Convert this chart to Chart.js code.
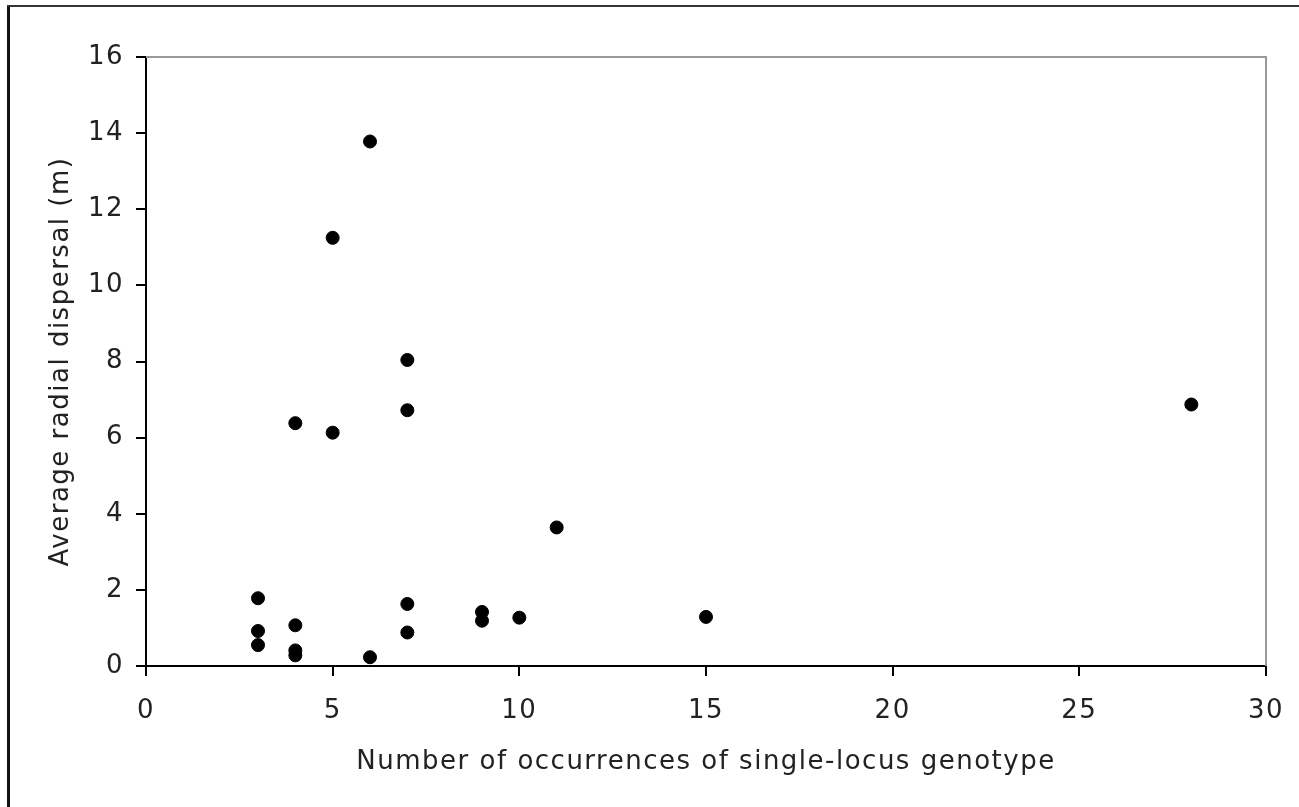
<!DOCTYPE html>
<html>
<head>
<meta charset="utf-8">
<script src="https://cdn.jsdelivr.net/npm/chart.js@4"></script>
<style>
    html, body { margin: 0; padding: 0; background: #fff; }
    #wrap { position: relative; width: 1299px; height: 807px; }
</style>
</head>
<body>
<div id="wrap"><canvas id="scatterChart" width="1299" height="807"></canvas></div>
<script>
// occurrences of single-locus genotype (x) vs average radial dispersal in m (y)
const occurrences = [3, 3, 3, 4, 4, 4, 4, 5, 5, 6, 6, 7, 7, 7, 7, 9, 9, 10, 11, 15, 28];
const dispersal = [1.78, 0.92, 0.55, 6.38, 1.07, 0.41, 0.28, 11.25, 6.13, 13.78, 0.23, 8.04, 6.72, 1.63, 0.88, 1.42, 1.19, 1.27, 3.64, 1.29, 6.87];
const xTicks = [0, 5, 10, 15, 20, 25, 30];
const yTicks = [0, 2, 4, 6, 8, 10, 12, 14, 16];

const points = occurrences.map((x, i) => ({ x: x, y: dispersal[i] }));

// frame around the figure + grey top/right edge of the plot box
const framePlugin = {
    id: 'frame',
    beforeDraw(chart) {
        const ctx = chart.ctx;
        // the original font (Verdana-like) runs wider than DejaVu Sans
        ctx.letterSpacing = '1.5px';
        ctx.save();
        ctx.fillStyle = '#fff';
        ctx.fillRect(0, 0, chart.width, chart.height);
        ctx.strokeStyle = '#111';
        ctx.lineWidth = 3;
        ctx.beginPath();
        ctx.moveTo(8.5, chart.height);
        ctx.lineTo(8.5, 6);
        ctx.stroke();
        ctx.strokeStyle = '#333';
        ctx.lineWidth = 2;
        ctx.beginPath();
        ctx.moveTo(7, 6);
        ctx.lineTo(chart.width, 6);
        ctx.stroke();
        ctx.restore();
    },
    afterDatasetsDraw(chart) {
        const a = chart.chartArea;
        const ctx = chart.ctx;
        ctx.save();
        ctx.strokeStyle = '#999';
        ctx.lineWidth = 2;
        ctx.beginPath();
        ctx.moveTo(a.left, a.top);
        ctx.lineTo(a.right, a.top);
        ctx.lineTo(a.right, a.bottom);
        ctx.stroke();
        ctx.restore();
    }
};

const font = { family: 'DejaVu Sans', size: 26 };

new Chart(document.getElementById('scatterChart').getContext('2d'), {
    type: 'scatter',
    data: {
        datasets: [{
            data: points,
            backgroundColor: '#000',
            borderColor: '#000',
            pointRadius: 6.5,
            pointHoverRadius: 6.5
        }]
    },
    options: {
        responsive: false,
        animation: false,
        events: [],
        layout: { padding: { top: 57, right: 33, left: 0, bottom: 0 } },
        plugins: {
            legend: { display: false },
            tooltip: { enabled: false }
        },
        scales: {
            x: {
                type: 'linear',
                min: 0,
                max: 30,
                afterFit: (scale) => {
                    scale.height = 141;
                    scale.paddingLeft = 0;
                    scale.paddingRight = 0;
                },
                afterBuildTicks: (scale) => { scale.ticks = xTicks.map(v => ({ value: v })); },
                ticks: { color: '#222', font: font, padding: 20 },
                grid: { drawOnChartArea: false, drawTicks: true, tickLength: 10, color: '#000', lineWidth: 2 },
                border: { display: true, color: '#000', width: 2 },
                title: {
                    display: true,
                    text: 'Number of occurrences of single-locus genotype',
                    color: '#222',
                    font: font,
                    padding: { top: 0, bottom: 29 }
                }
            },
            y: {
                type: 'linear',
                min: 0,
                max: 16,
                afterFit: (scale) => {
                    scale.width = 146;
                    scale.paddingTop = 0;
                    scale.paddingBottom = 0;
                },
                afterBuildTicks: (scale) => { scale.ticks = yTicks.map(v => ({ value: v })); },
                ticks: { color: '#222', font: font, padding: 12 },
                grid: { drawOnChartArea: false, drawTicks: true, tickLength: 10, color: '#000', lineWidth: 2 },
                border: { display: true, color: '#000', width: 2 },
                title: {
                    display: true,
                    text: 'Average radial dispersal (m)',
                    color: '#222',
                    font: font,
                    padding: { top: 46, bottom: 0 }
                }
            }
        }
    },
    plugins: [framePlugin]
});
</script>
</body>
</html>
